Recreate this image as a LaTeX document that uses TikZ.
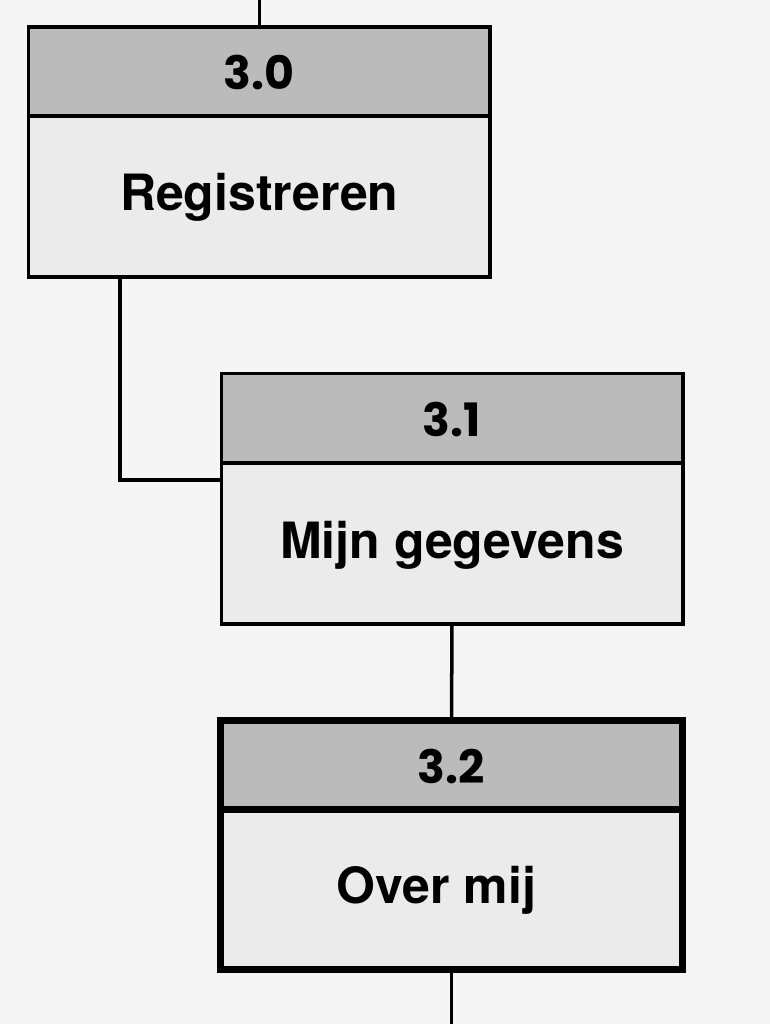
\documentclass[tikz,border=0pt]{standalone}
\usepackage{fontspec}
\setmainfont{TeX Gyre Heros}
\newfontfamily\headfont{Poppins}
\definecolor{bgc}{HTML}{F5F5F5}
\definecolor{hdc}{HTML}{BBBBBB}
\definecolor{bdc}{HTML}{EBEBEB}
\begin{document}
\begin{tikzpicture}[x=1pt,y=-1pt,
  hd/.style={draw=black, line width=3.5pt, fill=hdc, minimum width=461.5pt, minimum height=89pt, inner sep=0pt, outer sep=0pt,
    text height=37pt, text depth=0pt, font=\headfont\bfseries\fontsize{46}{46}\selectfont},
  bd/.style={draw=black, line width=3.5pt, fill=bdc, minimum width=461.5pt, minimum height=161pt, inner sep=0pt, outer sep=0pt,
    text height=37pt, text depth=8pt, font=\bfseries\fontsize{50}{50}\selectfont},
  thick box/.style={line width=7pt},
  conn/.style={draw=black, line width=3.5pt}]
\fill[bgc] (0,0) rectangle (770,1024);
\useasboundingbox (0,0) rectangle (770,1024);
\coordinate (top) at (259.25,0);
\coordinate (c1) at (120,480);
\coordinate (bottom) at (451.5,1024);
% box 3.0
\node[hd] (h30) at (259.25,71.5) {3.0};
\node[bd] (b30) at (259.25,196.5) {Registreren};
% box 3.1
\node[hd] (h31) at (452,418) {3.1};
\node[bd] (b31) at (452,543.5) {Mijn gegevens};
% box 3.2
\node[hd, thick box, minimum width=462pt, minimum height=88.5pt] (h32) at (451.5,764.75) {3.2};
\node[bd, thick box, minimum width=462pt, minimum height=160.5pt] (b32) at (451.5,889.25) {Over mij\hspace*{30pt}};
% connectors
\draw[conn] (top) -- (h30.north);
\draw[conn] (b30.south -| c1) -- (c1) -- (c1 -| b31.west);
\draw[conn] (b31.south) -- (h32.north);
\draw[conn] (b32.south) -- (bottom);
\end{tikzpicture}
\end{document}
